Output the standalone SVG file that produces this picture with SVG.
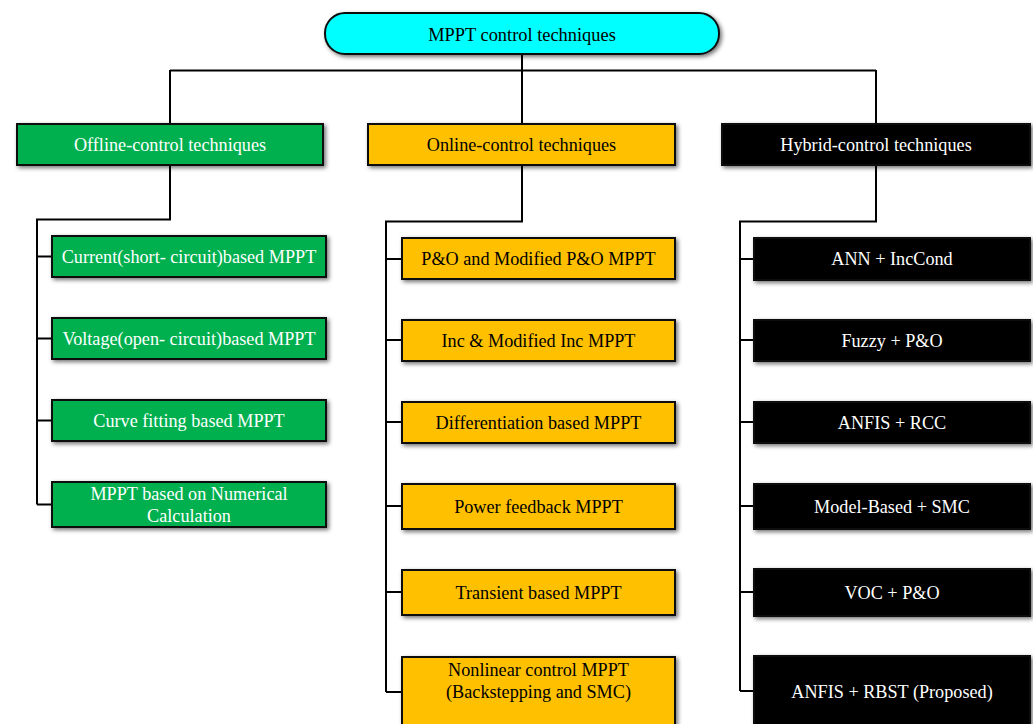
<svg xmlns="http://www.w3.org/2000/svg" width="1033" height="724" viewBox="0 0 1033 724">
<defs>
<filter id="sh" x="-10%" y="-30%" width="120%" height="160%">
<feDropShadow dx="2" dy="2" stdDeviation="2" flood-color="#000" flood-opacity="0.55"/>
</filter>
</defs>
<style>
rect{stroke:#111;stroke-width:2;filter:url(#sh)}
.cy{fill:#00FFFF}
.gr{fill:#00B050}
.or{fill:#FFC000}
.bk{fill:#000}
text{font-family:"Liberation Serif","Times New Roman",serif;font-size:18.2px;text-anchor:middle}
.w{fill:#fff}
.d{fill:#000}
#connectors path{fill:none;stroke:#000;stroke-width:2}
</style>
<rect width="1033" height="724" fill="#fff" style="stroke:none;filter:none"/>
<g id="connectors">
<path d="M522 54V124M170 70.5H876M170 70V124M876 70V124"/>
<path d="M170 165V219.5H37V504.5M37 256.5H52M37 338.5H52M37 420.5H52M37 504.5H52"/>
<path d="M522 165V221.5H386V692M386 259H402M386 340H402M386 422H402M386 506H402M386 592H402M386 692H402"/>
<path d="M876 165V221.5H740V691M740 259H754M740 340H754M740 422H754M740 506H754M740 592H754M740 691H754"/>
</g>
<g id="root"><rect class="cy" x="325" y="13" width="394" height="41" rx="20"/><text class="d" x="522" y="40.5" style="font-size:18.4px">MPPT control techniques</text></g>
<g id="offline"><rect class="gr" x="17" y="124" width="306" height="41"/><text class="w" x="170" y="151">Offline-control techniques</text></g>
<g id="online"><rect class="or" x="368" y="124" width="307" height="41"/><text class="d" x="521.5" y="151">Online-control techniques</text></g>
<g id="hybrid"><rect class="bk" x="722" y="124" width="308" height="41"/><text class="w" x="876" y="151">Hybrid-control techniques</text></g>
<g id="off1"><rect class="gr" x="52" y="236" width="274" height="41"/><text class="w" x="189" y="263">Current(short- circuit)based MPPT</text></g>
<g id="off2"><rect class="gr" x="52" y="318" width="274" height="41"/><text class="w" x="189" y="345">Voltage(open- circuit)based MPPT</text></g>
<g id="off3"><rect class="gr" x="52" y="400" width="274" height="41"/><text class="w" x="189" y="427">Curve fitting based MPPT</text></g>
<g id="off4"><rect class="gr" x="52" y="482" width="274" height="45"/><text class="w" x="189" y="500">MPPT based on Numerical</text><text class="w" x="189" y="522">Calculation</text></g>
<g id="on1"><rect class="or" x="402" y="238" width="273" height="41"/><text class="d" x="538.5" y="265">P&amp;O and Modified P&amp;O MPPT</text></g>
<g id="on2"><rect class="or" x="402" y="320" width="273" height="41"/><text class="d" x="538.5" y="347">Inc &amp; Modified Inc MPPT</text></g>
<g id="on3"><rect class="or" x="402" y="402" width="273" height="41"/><text class="d" x="538.5" y="429">Differentiation based MPPT</text></g>
<g id="on4"><rect class="or" x="402" y="484" width="273" height="45"/><text class="d" x="538.5" y="513">Power feedback MPPT</text></g>
<g id="on5"><rect class="or" x="402" y="570" width="273" height="45"/><text class="d" x="538.5" y="599">Transient based MPPT</text></g>
<g id="on6"><rect class="or" x="402" y="657" width="273" height="80"/><text class="d" x="538.5" y="676">Nonlinear control MPPT</text><text class="d" x="538.5" y="698">(Backstepping and SMC)</text></g>
<g id="hy1"><rect class="bk" x="754" y="238" width="276" height="42"/><text class="w" x="892" y="265">ANN + IncCond</text></g>
<g id="hy2"><rect class="bk" x="754" y="320" width="276" height="41"/><text class="w" x="892" y="347">Fuzzy + P&amp;O</text></g>
<g id="hy3"><rect class="bk" x="754" y="402" width="276" height="41"/><text class="w" x="892" y="429">ANFIS + RCC</text></g>
<g id="hy4"><rect class="bk" x="754" y="484" width="276" height="45"/><text class="w" x="892" y="513">Model-Based + SMC</text></g>
<g id="hy5"><rect class="bk" x="754" y="569" width="276" height="47"/><text class="w" x="892" y="599">VOC + P&amp;O</text></g>
<g id="hy6"><rect class="bk" x="754" y="656" width="276" height="80"/><text class="w" x="892" y="698">ANFIS + RBST (Proposed)</text></g>
</svg>
